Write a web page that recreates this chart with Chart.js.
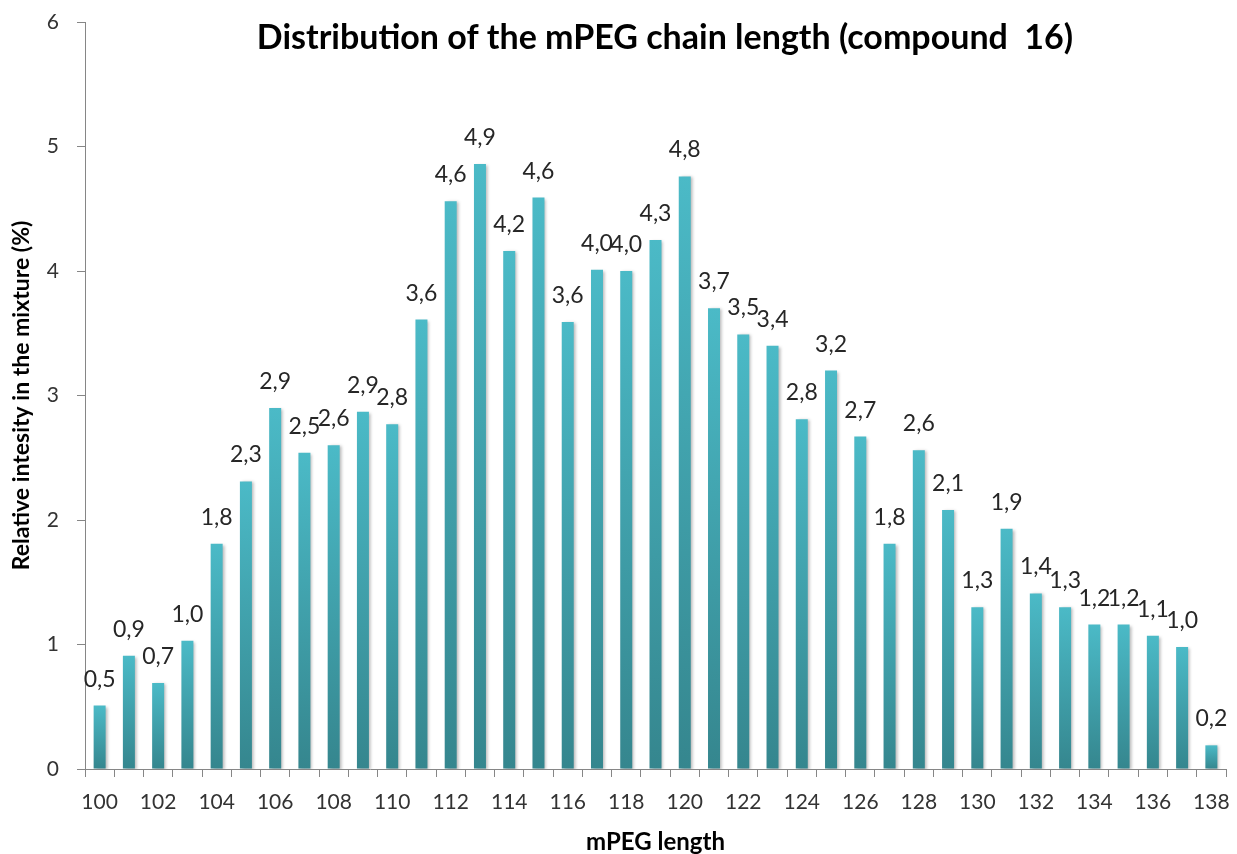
<!DOCTYPE html>
<html>
<head>
<meta charset="utf-8">
<script src="https://cdn.jsdelivr.net/npm/chart.js@4"></script>
<style>
  html, body { margin: 0; padding: 0; background: #fff; }
  #wrap { width: 1237px; height: 854px; }
</style>
</head>
<body>
<div id="wrap"><canvas id="mpegChart" width="1237" height="854"></canvas></div>
<script>
const lengths = [];
for (let n = 100; n <= 138; n++) lengths.push(String(n));

const intensity = [
  0.51, 0.91, 0.69, 1.03, 1.81, 2.31, 2.90, 2.54, 2.60, 2.87,
  2.77, 3.61, 4.56, 4.86, 4.16, 4.59, 3.59, 4.01, 4.00, 4.25,
  4.76, 3.70, 3.49, 3.40, 2.81, 3.20, 2.67, 1.81, 2.56, 2.08,
  1.30, 1.93, 1.41, 1.30, 1.16, 1.16, 1.07, 0.98, 0.19
];

const yTicks = [0, 1, 2, 3, 4, 5, 6];

const chartTitle = 'Distribution of the mPEG chain length (compound  16)';
const xTitle = 'mPEG length';
const yTitle = 'Relative intesity in the mixture (%)';

const font = 'Lato, "Open Sans", sans-serif';
const axisGray = '#868686';
const textGray = '#333333';

// gradient per bar, light at top, dark at the axis
function barFill(c) {
  const chart = c.chart;
  const area = chart.chartArea;
  if (!area || c.dataIndex === undefined) return '#44aab6';
  const top = chart.scales.y.getPixelForValue(intensity[c.dataIndex]);
  const g = chart.ctx.createLinearGradient(0, top, 0, area.bottom);
  g.addColorStop(0, '#4bbac7');
  g.addColorStop(1, '#35868e');
  return g;
}

const barShadow = {
  id: 'barShadow',
  beforeDatasetsDraw(chart) {
    const ctx = chart.ctx;
    ctx.save();
    ctx.shadowColor = 'rgba(0,0,0,0.28)';
    ctx.shadowBlur = 3;
    ctx.shadowOffsetX = 2;
    ctx.shadowOffsetY = 1;
  },
  afterDatasetsDraw(chart) {
    chart.ctx.restore();
  }
};

const valueLabels = {
  id: 'valueLabels',
  afterDatasetsDraw(chart) {
    const ctx = chart.ctx;
    const meta = chart.getDatasetMeta(0);
    ctx.save();
    ctx.font = '23px ' + font;
    ctx.fillStyle = '#262626';
    ctx.textAlign = 'center';
    ctx.textBaseline = 'alphabetic';
    meta.data.forEach((bar, i) => {
      const txt = intensity[i].toFixed(1).replace('.', ',');
      ctx.fillText(txt, bar.x, bar.y - 19);
    });
    ctx.restore();
  }
};

const topTitle = {
  id: 'topTitle',
  afterDraw(chart) {
    const ctx = chart.ctx;
    ctx.save();
    ctx.font = 'bold 34px ' + font;
    ctx.fillStyle = '#000';
    ctx.textAlign = 'center';
    ctx.textBaseline = 'middle';
    ctx.fillText(chartTitle, 665, 38);
    ctx.restore();
  }
};

const ctx = document.getElementById('mpegChart').getContext('2d');
const mpegChart = new Chart(ctx, {
  type: 'bar',
  data: {
    labels: lengths,
    datasets: [{
      label: 'Relative intensity',
      data: intensity,
      backgroundColor: barFill,
      borderWidth: 0,
      categoryPercentage: 1,
      barPercentage: 0.41
    }]
  },
  options: {
    responsive: false,
    animation: false,
    layout: { padding: { top: 22, right: 11, left: 0, bottom: 0 } },
    plugins: {
      legend: { display: false },
      tooltip: { enabled: false }
    },
    scales: {
      x: {
        afterFit: (scale) => {
          scale.height = 85;
          scale.paddingLeft = 0;
          scale.paddingRight = 0;
        },
        grid: {
          offset: true,
          drawOnChartArea: false,
          color: axisGray,
          tickLength: 8
        },
        border: { color: axisGray, width: 1 },
        ticks: {
          autoSkip: false,
          maxRotation: 0,
          padding: 13,
          color: textGray,
          font: { family: font, size: 21 },
          callback: (v, i) => (i % 2 === 0 ? lengths[i] : '')
        },
        title: {
          display: true,
          text: xTitle,
          color: '#000',
          font: { family: font, size: 24, weight: 'bold' },
          padding: { top: 0, bottom: -3 }
        }
      },
      y: {
        min: 0,
        max: 6,
        afterBuildTicks: (axis) => { axis.ticks = yTicks.map(v => ({ value: v })); },
        afterFit: (scale) => {
          scale.width = 85;
          scale.paddingTop = 0;
          scale.paddingBottom = 0;
        },
        grid: {
          drawOnChartArea: false,
          color: axisGray,
          tickLength: 8
        },
        border: { color: axisGray, width: 1 },
        ticks: {
          padding: 18,
          color: textGray,
          font: { family: font, size: 21 }
        },
        title: {
          display: true,
          text: yTitle,
          color: '#000',
          font: { family: font, size: 23, weight: 'bold' },
          padding: { top: 8, bottom: 8 }
        }
      }
    }
  },
  plugins: [barShadow, valueLabels, topTitle]
});
</script>
</body>
</html>
